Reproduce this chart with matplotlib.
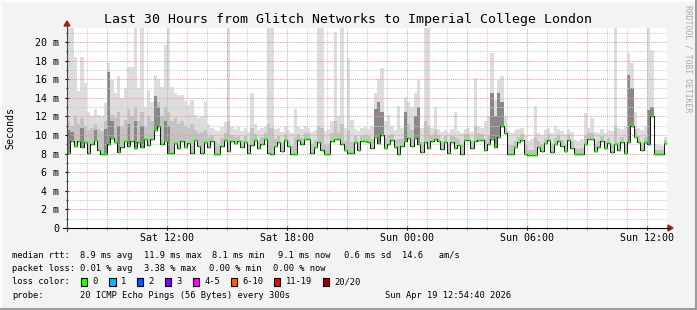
import numpy as np
import matplotlib
matplotlib.use('Agg')
import matplotlib.pyplot as plt
from matplotlib.lines import Line2D
from matplotlib.patches import Polygon, Rectangle
from matplotlib.transforms import Affine2D

plt.rcParams['font.family'] = ['DejaVu Sans Mono']

W, H = 697, 310
BIN_H = 1 / 6  # each bin = 10 minutes, x axis in hours from Sat 07:00

title = "Last 30 Hours from Glitch Networks to Imperial College London"

median_ms = [
    8.1, 9.3, 8.8, 9.4, 8.7, 9.2, 8.1, 9.0, 9.5, 8.4,
    8.0, 8.0, 9.0, 9.7, 9.2, 8.2, 8.7, 9.3, 8.8, 9.4,
    8.6, 9.2, 8.7, 9.6, 8.9, 9.6, 10.5, 11.0, 9.0, 9.3,
    8.1, 8.1, 9.1, 8.6, 9.4, 8.7, 9.1, 8.1, 9.5, 8.8,
    8.1, 9.2, 8.7, 9.4, 8.0, 8.0, 8.8, 9.5, 8.3, 9.4,
    9.1, 9.3, 8.7, 9.2, 8.1, 8.9, 9.5, 8.6, 9.0, 9.6,
    8.1, 8.0, 8.8, 9.2, 8.3, 9.5, 8.8, 8.0, 8.0, 9.5,
    9.0, 9.6, 9.6, 8.1, 8.7, 9.2, 8.4, 8.0, 8.0, 9.4,
    9.6, 9.6, 9.0, 8.4, 8.1, 8.1, 9.2, 8.4, 9.3, 9.4,
    9.2, 8.6, 9.8, 9.1, 10.0, 8.6, 9.0, 9.5, 8.7, 8.0,
    8.8, 9.3, 9.7, 8.8, 9.7, 9.0, 8.2, 9.2, 8.6, 9.3,
    9.6, 9.3, 8.5, 9.2, 8.1, 9.2, 8.6, 8.9, 8.0, 9.5,
    9.5, 8.6, 9.3, 9.5, 9.5, 8.4, 9.0, 9.6, 8.7, 9.8,
    11.0, 10.2, 8.0, 8.0, 8.7, 9.2, 9.5, 8.0, 7.9, 7.9,
    7.9, 8.7, 8.3, 9.1, 9.5, 8.2, 9.0, 9.4, 8.8, 8.3,
    9.5, 8.6, 8.0, 8.0, 8.0, 9.0, 9.6, 9.6, 8.3, 8.7,
    9.3, 8.6, 9.1, 8.2, 9.0, 8.4, 9.2, 8.1, 9.2, 11.0,
    9.8, 9.2, 8.4, 9.2, 9.0, 12.0, 8.0, 8.0, 8.0, 9.1,
]

smoke_hi_ms = [
    22, 22, 18.4, 14.7, 18.4, 15.6, 12.5, 12.0, 12.8, 12.2,
    12.0, 13.4, 17.7, 15.9, 14.5, 16.3, 14.0, 15.0, 17.3, 17.3,
    22, 15.0, 22, 13.0, 14.8, 13.5, 16.4, 16.0, 15.2, 19.7,
    22, 15.2, 14.5, 14.3, 14.3, 13.6, 13.2, 13.8, 12.2, 11.8,
    12.0, 13.5, 11.2, 10.8, 10.5, 10.4, 10.9, 11.4, 22, 11.0,
    10.6, 10.9, 10.4, 10.7, 10.3, 14.5, 11.2, 10.5, 10.8, 11.0,
    22, 22, 10.6, 10.8, 10.3, 10.9, 10.5, 10.2, 12.8, 10.9,
    10.6, 11.0, 10.8, 10.3, 10.5, 22, 22, 10.4, 10.6, 11.5,
    21.1, 12.0, 22, 10.8, 18.3, 11.6, 10.6, 10.4, 10.7, 10.9,
    10.6, 11.0, 14.5, 16.0, 17.2, 11.5, 12.2, 11.0, 10.5, 13.1,
    10.8, 14.1, 13.5, 13.0, 14.5, 15.9, 10.7, 22, 22, 10.8,
    13.0, 10.6, 10.3, 10.5, 10.2, 10.6, 12.5, 10.4, 10.2, 10.6,
    10.8, 10.3, 16.1, 11.0, 10.8, 11.5, 12.0, 18.8, 13.8, 15.9,
    16.3, 12.0, 10.4, 10.2, 10.5, 10.6, 10.8, 10.0, 9.4, 9.6,
    13.1, 10.2, 10.0, 10.5, 10.7, 10.2, 11.0, 10.6, 10.4, 10.1,
    10.6, 10.3, 9.5, 9.3, 9.6, 12.4, 10.8, 11.8, 10.3, 10.2,
    10.6, 10.2, 10.5, 10.4, 22, 10.8, 10.6, 10.9, 18.8, 17.7,
    12.5, 10.8, 10.5, 11.0, 22, 19.1, 9.0, 8.9, 8.8, 9.8,
]

smoke_mid_ms = [
    11.5, 11.0, 12.0, 11.2, 11.8, 11.0, 10.5, 10.8, 11.2, 10.6,
    10.4, 11.5, 13.5, 12.2, 11.8, 12.5, 11.0, 11.6, 12.8, 12.0,
    13.0, 11.5, 12.5, 11.0, 12.0, 11.5, 14.0, 13.5, 12.0, 13.0,
    12.5, 11.5, 11.8, 11.2, 11.5, 11.0, 10.8, 11.2, 10.5, 10.2,
    10.3, 10.5, 9.8, 10.0, 9.2, 9.0, 9.7, 10.2, 11.5, 10.0,
    9.8, 9.9, 9.5, 9.9, 9.0, 10.8, 10.1, 9.4, 9.8, 10.2,
    11.2, 10.8, 9.6, 9.9, 9.1, 10.1, 9.5, 8.8, 9.8, 10.1,
    9.7, 10.2, 10.2, 9.0, 9.5, 11.0, 10.8, 9.0, 9.0, 10.2,
    11.5, 10.3, 11.2, 9.3, 10.5, 9.2, 9.9, 9.2, 9.9, 10.0,
    9.9, 9.6, 11.5, 11.8, 12.0, 9.7, 9.9, 10.1, 9.5, 9.6,
    9.6, 11.0, 11.2, 10.5, 11.5, 11.8, 9.2, 11.5, 11.0, 10.0,
    10.5, 10.0, 9.3, 9.9, 9.0, 9.9, 9.8, 9.6, 9.0, 10.1,
    10.1, 9.4, 11.0, 10.2, 10.1, 9.6, 10.0, 12.5, 11.0, 12.0,
    12.5, 10.8, 8.9, 8.9, 9.4, 9.8, 10.1, 8.9, 8.4, 8.4,
    9.8, 9.4, 9.0, 9.7, 10.1, 9.0, 9.7, 10.0, 9.5, 9.0,
    10.1, 9.3, 8.6, 8.5, 8.6, 9.9, 10.2, 10.2, 9.0, 9.3,
    9.9, 9.3, 9.7, 9.0, 11.0, 9.2, 9.8, 9.0, 13.5, 13.0,
    10.6, 9.9, 9.1, 9.8, 11.5, 12.8, 8.4, 8.4, 8.4, 9.5,
]

dark_bins = [0, 1, 4, 8, 11, 12, 13, 15, 18, 20, 22, 26, 27, 29, 30,
             92, 93, 94, 101, 104, 105, 127, 128, 129, 130, 168, 169, 174, 175]
dark_top_ms = [10.5, 10.3, 10.8, 10.5, 10.6, 16.8, 11.5, 11.0, 11.2, 11.5, 11.0, 14.2, 13.0, 11.5, 11.0,
               12.8, 13.5, 12.5, 12.5, 12.0, 13.0, 14.5, 12.0, 14.5, 13.5, 16.5, 15.0, 12.7, 13.0]

loss_bins = [174]
loss_levels = [1]

x_tick_hours = [5, 11, 17, 23, 29]
x_tick_labels = ["Sat 12:00", "Sat 18:00", "Sun 00:00", "Sun 06:00", "Sun 12:00"]
y_tick_vals = [0, 2, 4, 6, 8, 10, 12, 14, 16, 18, 20]
y_tick_labels = ["0", "2 m", "4 m", "6 m", "8 m", "10 m", "12 m", "14 m", "16 m", "18 m", "20 m"]

loss_color_labels = ["0", "1", "2", "3", "4-5", "6-10", "11-19", "20/20"]
loss_colors = ["#26ff00", "#00b8ff", "#0059ff", "#7e00ff", "#ff00ff", "#ff5e00", "#ff0000", "#a10000"]

rtt_stats = ["8.9 ms avg", "11.9 ms max", "8.1 ms min", "9.1 ms now", "0.6 ms sd", "14.6   am/s"]
loss_stats = ["0.01 % avg", "3.38 % max", "0.00 % min", "0.00 % now"]
probe_text = "20 ICMP Echo Pings (56 Bytes) every 300s"
stamp_text = "Sun Apr 19 12:54:40 2026"

# ---------------------------------------------------------------
fig = plt.figure(figsize=(W / 100, H / 100), dpi=100)
fig.patch.set_facecolor('#f3f3f3')
px = Affine2D().scale(1 / W, -1 / H).translate(0, 1) + fig.transFigure

ax = fig.add_axes([67 / W, 1 - 228 / H, 600 / W, 200 / H])
ax.set_facecolor('white')
for s in ax.spines.values():
    s.set_visible(False)
ax.set_xlim(0, 30)
ax.set_ylim(0, 21.5)

med = np.array(median_ms)
hi = np.maximum(np.array(smoke_hi_ms), med)
mid = np.maximum(np.array(smoke_mid_ms), med)
n = len(med)
edges = np.arange(n + 1) * BIN_H


def ext(a):
    return np.append(a, a[-1])


ax.fill_between(edges, ext(med), ext(hi), step='post', color='#dddddd', lw=0, zorder=1)
ax.fill_between(edges, ext(med), ext(mid), step='post', color='#c2c2c2', lw=0, zorder=1.1)
db = np.array(dark_bins)
ax.bar(db * BIN_H, np.array(dark_top_ms) - med[db], bottom=med[db], width=BIN_H,
       align='edge', color='#888888', lw=0, zorder=1.2)

# grid
minor_c, major_c = '#cccccc', '#e8a0a0'
for h in range(1, 31):
    c = major_c if (h - 2) % 3 == 0 else minor_c
    ax.axvline(h, color=c, lw=0.75, ls=(0, (1, 1)), zorder=2)
for v in range(1, 22):
    c = major_c if v % 2 == 0 else minor_c
    ax.axhline(v, color=c, lw=0.75, ls=(0, (1, 1)), zorder=2)

# median line
ax.step(edges, ext(med), where='post', color='#111111', lw=0.7, zorder=3)
cols = [loss_colors[0]] * n
for b, lv in zip(loss_bins, loss_levels):
    cols[b] = loss_colors[lv]
ax.hlines(med, edges[:-1] + 0.15 * BIN_H, edges[:-1] + 0.85 * BIN_H, colors=cols, lw=1.8, zorder=4)

# ticks
ax.set_xticks(x_tick_hours, x_tick_labels)
ax.set_xticks(range(0, 31), minor=True)
ax.set_yticks(y_tick_vals, y_tick_labels)
ax.set_yticks(range(1, 22, 2), minor=True)
ax.tick_params(axis='both', which='major', length=3, direction='inout', width=0.8,
               labelsize=7.2, colors='black')
ax.tick_params(axis='both', which='minor', length=2, direction='inout', width=0.8)
ax.tick_params(axis='x', pad=2)
ax.tick_params(axis='y', pad=4)

# axes lines and arrows
fig.add_artist(Line2D([63, 669], [228, 228], color='black', lw=0.8, transform=px))
fig.add_artist(Line2D([67, 67], [231, 25], color='#444444', lw=0.8, transform=px))
fig.add_artist(Polygon([[64, 26], [70, 26], [67, 21]], closed=True, color='#a02020', transform=px))
fig.add_artist(Polygon([[668, 225], [668, 231], [673, 228]], closed=True, color='#a02020', transform=px))

# borders
fig.add_artist(Line2D([0, W], [0.5, 0.5], color='#fcfcfc', lw=1.5, transform=px))
fig.add_artist(Line2D([0.5, 0.5], [0, H], color='#fcfcfc', lw=1.5, transform=px))
fig.add_artist(Line2D([0, W], [H - 1.5, H - 1.5], color='#9c9c9c', lw=1.5, transform=px))
fig.add_artist(Line2D([W - 1.5, W - 1.5], [0, H], color='#9c9c9c', lw=1.5, transform=px))

# titles
fig.text(348, 19, title, transform=px, ha='center', va='center', fontsize=9.5)
fig.text(10, 128, "Seconds", transform=px, ha='center', va='center', rotation=90, fontsize=7.2)
fig.text(688, 59, "RRDTOOL / TOBI OETIKER", transform=px, ha='center', va='center',
         rotation=270, fontsize=5.9, color='#a8a8a8')

# legend
lf = 6.3
y1, y2, y3, y4 = 255, 268.5, 282, 296
fig.text(12, y1, "median rtt:", transform=px, va='center', fontsize=lf)
for xx, s in zip([80.5, 144, 212, 278, 344, 402.5], rtt_stats):
    fig.text(xx, y1, s, transform=px, va='center', fontsize=lf)
fig.text(12, y2, "packet loss:", transform=px, va='center', fontsize=lf)
for xx, s in zip([80.5, 144, 209, 273], loss_stats):
    fig.text(xx, y2, s, transform=px, va='center', fontsize=lf)
fig.text(12, y3, "loss color:", transform=px, va='center', fontsize=lf)
box_x = [81, 109.3, 137, 165, 192.7, 230.7, 274, 323]
for bx, c, lab in zip(box_x, loss_colors, loss_color_labels):
    fig.add_artist(Rectangle((bx, y3 - 4), 6.3, 8.3, facecolor=c, edgecolor='black',
                             lw=0.8, transform=px))
    fig.text(bx + 11.5, y3, lab, transform=px, va='center', fontsize=lf)
fig.text(12, y4, "probe:", transform=px, va='center', fontsize=lf)
fig.text(80.5, y4, probe_text, transform=px, va='center', fontsize=lf)
fig.text(385, y4, stamp_text, transform=px, va='center', fontsize=lf)

fig.savefig('out.png', dpi=100, facecolor=fig.get_facecolor())
